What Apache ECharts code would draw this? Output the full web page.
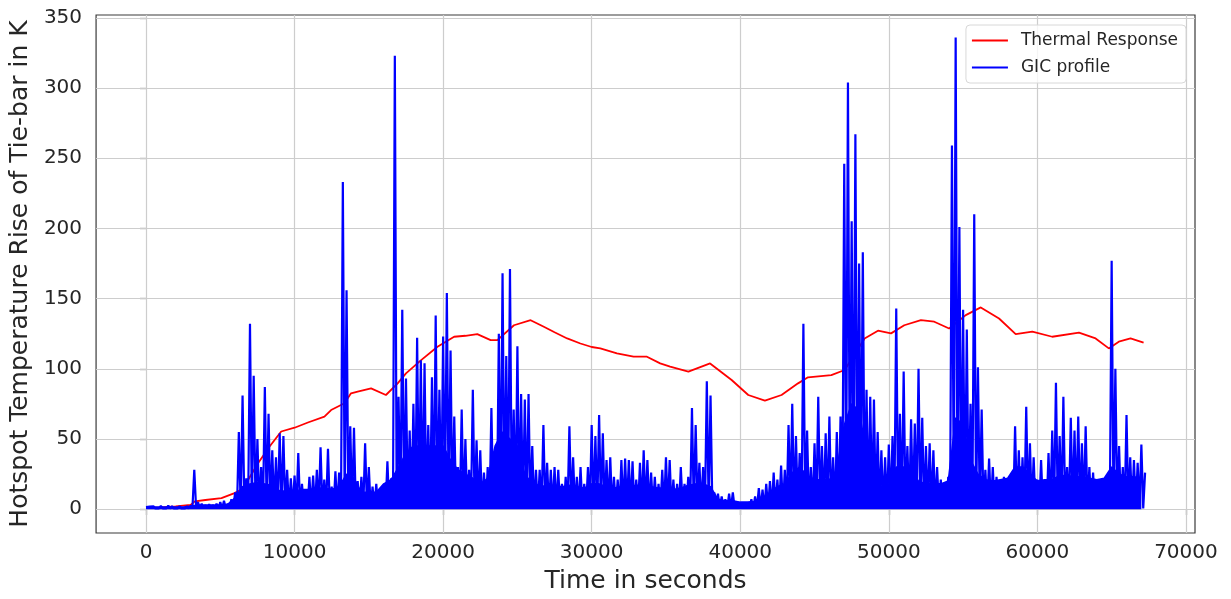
<!DOCTYPE html>
<html lang="en">
<head>
    <meta charset="UTF-8">
    <title>Thermal response of tie-bar</title>
    <script src="https://cdn.jsdelivr.net/npm/echarts@6/dist/echarts.min.js"></script>
    <style>
        body { margin: 0; background: #fff; }
        #chart { width: 1231px; height: 599px; }
    </style>
</head>
<body>
<div id="chart"></div>
<script>
    // tick positions of both axes
    var xTicks = [0, 10000, 20000, 30000, 40000, 50000, 60000, 70000];
    var yTicks = [0, 50, 100, 150, 200, 250, 300, 350];

    // Thermal Response (red)
    var thermalTime = [0, 1000, 2000, 3000, 3290, 4000, 5080, 5960, 6420, 6870, 7540, 8320, 9100, 10000,
        10900, 12010, 12460, 13360, 13800, 14250, 15150, 16150, 16940, 17500, 18500, 19620, 20740,
        21500, 22300, 23200, 23650, 24770, 25890, 26780, 27500, 28350, 29240, 30000, 30580, 31700,
        32820, 33720, 34610, 35280, 36510, 37970, 39420, 40540, 41660, 42780, 43890, 44560, 46130,
        47030, 48370, 49270, 50150, 51040, 52160, 53060, 54060, 55180, 56190, 57420, 58540, 59660,
        61000, 62800, 63920, 64810, 65480, 66270, 67150];
    var thermalValue = [1, 1.3, 2, 3, 5.5, 6.5, 7.8, 11.4, 14, 20.8, 32.7, 44.6, 55.3, 58,
        61.7, 65.9, 70.6, 75.4, 82.5, 83.7, 86, 81.3, 89.6, 96.7, 106, 115.7, 122.8,
        123.5, 124.7, 120.4, 120.4, 131, 134.6, 129.9, 126, 121.6, 118, 115.5, 114.5, 111,
        108.6, 108.6, 103.8, 101.5, 97.9, 103.8, 92, 81.3, 77.3, 81.3, 89.6, 93.9, 95.5,
        99.1, 121.6, 127.1, 125.2, 131, 134.6, 133.5, 128.7, 138.2, 143.7, 135.8, 124.7, 126.4,
        122.8, 125.7, 121.6, 114.5, 119.3, 121.6, 118.6];

    // GIC profile (blue): spike peaks read every 250 s, signal drops to the floor in between
    var gicStep = 250;
    var gicFloor = 0.5;
    var gicPeak = [
        1.5, 1.8, 2, 1.5, 2.2, 1.8, 2.5, 2, 1.5, 2, 1.8, 2, 2.5, 28, 5, 4, 3, 3.5, 3, 4,
        5, 6, 4, 7, 12, 55, 81, 22, 132, 95, 50, 30, 87, 68, 42, 37, 54, 52, 28, 22,
        24, 40, 18, 14, 23, 24, 28, 44, 21, 43, 16, 27, 26, 233, 156, 59, 58, 20, 23, 47,
        30, 16, 18, 11, 7, 34, 22, 323, 80, 142, 93, 56, 75, 122, 106, 104, 60, 94, 138, 85,
        123, 154, 113, 66, 30, 71, 50, 28, 85, 49, 42, 26, 30, 72, 37, 125, 168, 109, 171, 71,
        116, 82, 78, 82, 45, 28, 28, 60, 33, 28, 30, 28, 18, 23, 59, 37, 23, 30, 18, 30,
        60, 52, 67, 54, 35, 37, 23, 21, 35, 36, 35, 34, 21, 33, 42, 35, 26, 23, 18, 28,
        37, 35, 21, 18, 30, 18, 23, 72, 60, 33, 30, 91, 81, 12, 11, 9, 7, 11, 12, 5.5,
        4.3, 4, 4.5, 7, 9, 15, 14, 18, 20, 26, 21, 31, 28, 60, 75, 52, 40, 132, 56, 30,
        47, 80, 45, 54, 66, 37, 55, 66, 246, 304, 205, 267, 175, 183, 85, 80, 78, 55, 42, 37,
        46, 52, 143, 68, 98, 45, 64, 61, 100, 65, 45, 47, 42, 30, 21, 9, 23, 259, 336, 201,
        142, 128, 75, 210, 101, 71, 28, 36, 30, 23, 16, 23, 16, 24, 59, 42, 37, 73, 47, 37,
        21, 35, 21, 40, 56, 90, 52, 80, 30, 65, 56, 66, 47, 59, 30, 26, 18, 21, 18, 14,
        177, 100, 45, 30, 67, 37, 35, 33, 46, 26];

    // level below which the GIC trace is packed solid, read every 500 s
    var gicBaseStep = 500;
    var gicBase = [
        1.5, 1.5, 1.5, 1.5, 1.5, 1.5, 2, 3, 3, 3, 3, 3.5, 8, 16, 18, 19, 18, 17, 13, 13,
        13, 14, 14, 15, 15, 14, 16, 25, 22, 12, 12, 12, 18, 21, 30, 40, 45, 45, 45, 45,
        45, 35, 28, 25, 22, 18, 22, 45, 55, 50, 45, 25, 18, 17, 16, 17, 16, 17, 16, 15,
        18, 18, 16, 15, 16, 16, 17, 17, 16, 15, 15, 14, 15, 17, 18, 18, 16, 7, 6, 6,
        5, 5, 5.5, 7, 12, 16, 18, 26, 30, 24, 21, 21, 21, 28, 60, 75, 70, 40, 30, 16,
        18, 30, 30, 28, 20, 18, 18, 18, 20, 65, 60, 35, 25, 21, 20, 21, 22, 30, 30, 25,
        20, 21, 21, 24, 24, 23, 23, 22, 21, 22, 30, 25, 23, 23, 22];

    var thermalData = [];
    for (var i = 0; i < thermalTime.length; i++) {
        thermalData.push([thermalTime[i], thermalValue[i]]);
    }
    var gicData = [];
    for (var j = 0; j < gicPeak.length; j++) {
        gicData.push([j * gicStep, gicPeak[j]]);
        if (j < gicPeak.length - 1) {
            gicData.push([j * gicStep + gicStep / 2, gicFloor]);
        }
    }
    var baseData = [];
    for (var k = 0; k < gicBase.length; k++) {
        baseData.push([k * gicBaseStep, gicBase[k]]);
    }

    var gridLines = [];
    xTicks.forEach(function (v) { gridLines.push({ xAxis: v }); });
    yTicks.forEach(function (v) { gridLines.push({ yAxis: v }); });

    var font = 'DejaVu Sans';
    var textColor = '#262626';

    var myChart = echarts.init(document.getElementById('chart'));
    var option = {
        animation: false,
        backgroundColor: '#fff',
        grid: {
            left: 95, right: 36, top: 15, bottom: 64,
            show: true,
            borderColor: '#3a3a3a',
            borderWidth: 1.2,
            backgroundColor: 'transparent'
        },
        legend: {
            data: ['Thermal Response', 'GIC profile'],
            orient: 'vertical',
            right: 45,
            top: 25,
            icon: 'rect',
            itemWidth: 36,
            itemHeight: 2,
            itemGap: 10,
            padding: [7, 8, 7, 6],
            backgroundColor: 'rgba(255,255,255,0.8)',
            borderColor: '#d8d8d8',
            borderWidth: 1,
            borderRadius: 4,
            textStyle: { fontFamily: font, fontSize: 17, color: textColor, padding: [0, 0, 0, 8] }
        },
        xAxis: {
            type: 'value',
            min: -3360,
            max: 70610,
            name: 'Time in seconds',
            nameLocation: 'middle',
            nameGap: 36,
            nameTextStyle: { fontFamily: font, fontSize: 25, color: textColor },
            axisLine: { show: false },
            axisTick: { show: true, inside: false, length: 6, customValues: xTicks, lineStyle: { color: '#3a3a3a', width: 1.2 } },
            axisLabel: {
                customValues: xTicks, margin: 10, fontFamily: font, fontSize: 20, color: textColor,
                formatter: function (v) { return String(v); }
            },
            splitLine: { show: false }
        },
        yAxis: {
            type: 'value',
            min: -17,
            max: 352,
            name: 'Hotspot Temperature Rise of Tie-bar in K',
            nameLocation: 'middle',
            nameGap: 55,
            nameTextStyle: { fontFamily: font, fontSize: 25, color: textColor },
            axisLine: { show: false },
            axisTick: { show: true, inside: false, length: 6, customValues: yTicks, lineStyle: { color: '#3a3a3a', width: 1.2 } },
            axisLabel: { customValues: yTicks, margin: 14, fontFamily: font, fontSize: 20, color: textColor },
            splitLine: { show: false }
        },
        series: [
            {
                name: 'grid',
                type: 'line',
                data: [],
                z: 1,
                silent: true,
                markLine: {
                    z: 1,
                    silent: true,
                    animation: false,
                    symbol: 'none',
                    label: { show: false },
                    lineStyle: { color: '#cdcdcd', width: 1.2, type: 'solid' },
                    data: gridLines
                }
            },
            {
                name: 'Thermal Response',
                type: 'line',
                data: thermalData,
                symbol: 'none',
                z: 2,
                lineStyle: { color: '#ff0000', width: 1.8 },
                itemStyle: { color: '#ff0000' }
            },
            {
                name: 'GIC base',
                type: 'line',
                data: baseData,
                symbol: 'none',
                z: 3,
                silent: true,
                lineStyle: { color: '#0000ff', width: 1.5 },
                itemStyle: { color: '#0000ff' },
                areaStyle: { color: '#0000ff', opacity: 1 }
            },
            {
                name: 'GIC profile',
                type: 'line',
                data: gicData,
                symbol: 'none',
                z: 4,
                sampling: null,
                lineStyle: { color: '#0000ff', width: 2.2 },
                itemStyle: { color: '#0000ff' }
            }
        ]
    };
    myChart.setOption(option);
</script>
</body>
</html>
